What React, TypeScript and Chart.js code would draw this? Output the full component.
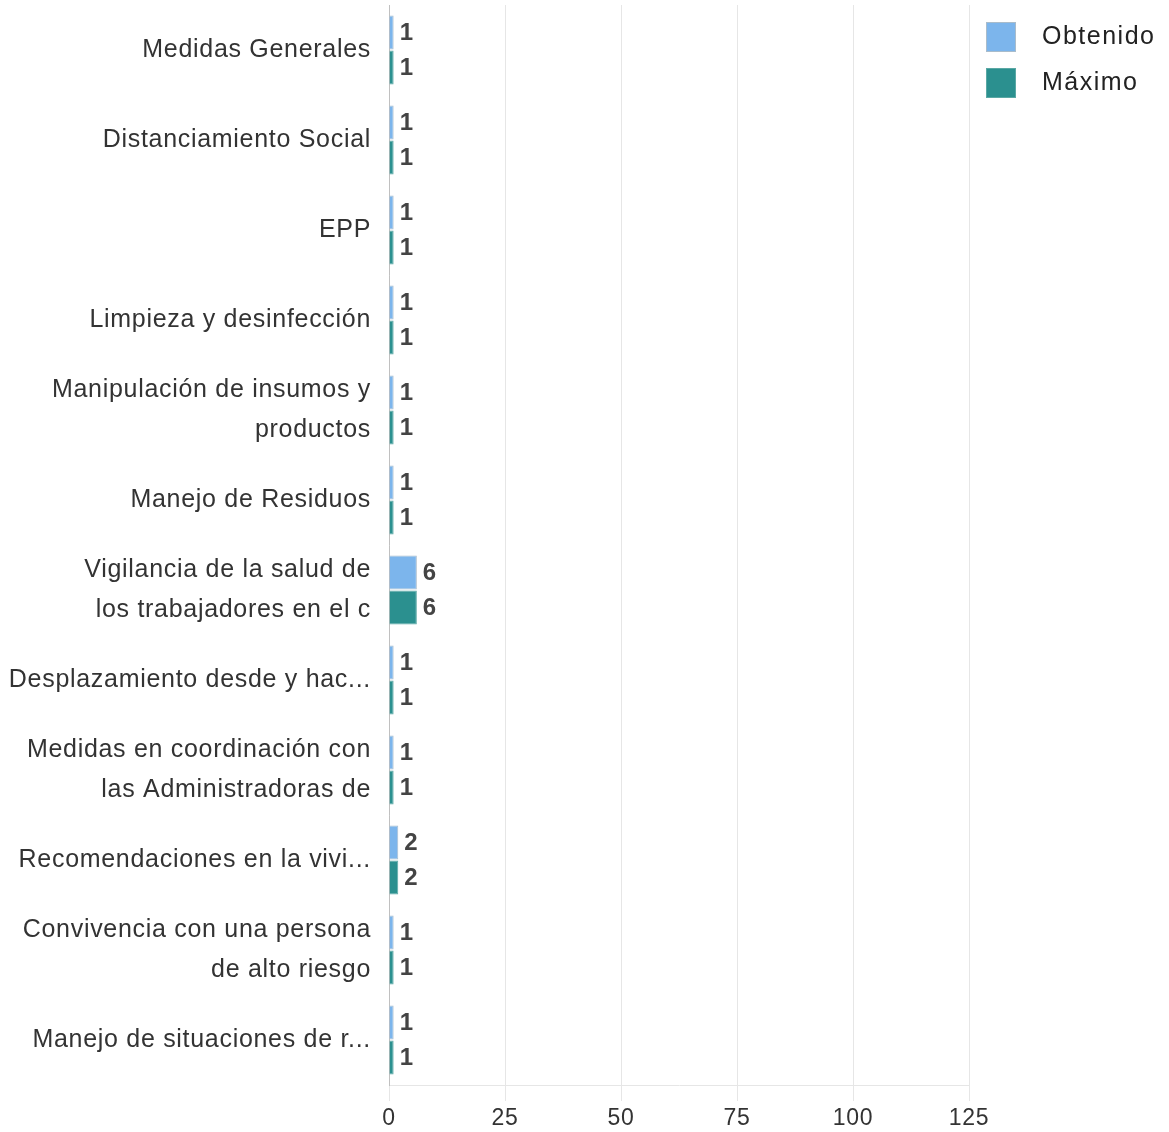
import React, { useEffect, useRef } from "react";
import { Chart, registerables } from "chart.js";

Chart.register(...registerables);

const categories: (string | string[])[] = [
  "Medidas Generales",
  "Distanciamiento Social",
  "EPP",
  "Limpieza y desinfección",
  ["Manipulación de insumos y", "productos"],
  "Manejo de Residuos",
  ["Vigilancia de la salud de", "los trabajadores en el c"],
  "Desplazamiento desde y hac...",
  ["Medidas en coordinación con", "las Administradoras de"],
  "Recomendaciones en la vivi...",
  ["Convivencia con una persona", "de alto riesgo"],
  "Manejo de situaciones de r...",
];

const obtenido = [1, 1, 1, 1, 1, 1, 6, 1, 1, 2, 1, 1];
const maximo = [1, 1, 1, 1, 1, 1, 6, 1, 1, 2, 1, 1];

const seriesNames = ["Obtenido", "Máximo"];
const xTicks = [0, 25, 50, 75, 100, 125];

const FONT = "'Liberation Sans', Arial, sans-serif";

const spacingPlugin = {
  id: "letterSpacing",
  beforeDraw(chart: any) {
    (chart.ctx as any).letterSpacing = "0.7px";
  },
};

const valueLabelPlugin = {
  id: "valueLabels",
  afterDatasetsDraw(chart: any) {
    const ctx = chart.ctx;
    ctx.save();
    (ctx as any).letterSpacing = "0px";
    ctx.font = `bold 24px ${FONT}`;
    ctx.fillStyle = "#444444";
    ctx.textAlign = "left";
    ctx.textBaseline = "middle";
    chart.data.datasets.forEach((ds: any, di: number) => {
      const meta = chart.getDatasetMeta(di);
      meta.data.forEach((bar: any, i: number) => {
        ctx.fillText(String(ds.data[i]), bar.x + 6, bar.y + 1);
      });
    });
    ctx.restore();
  },
};

const legendPlugin = {
  id: "customLegend",
  afterDraw(chart: any) {
    const ctx = chart.ctx;
    ctx.save();
    (ctx as any).letterSpacing = "1.5px";
    const boxX = chart.chartArea.right + 17;
    const startY = 22;
    const step = 46;
    chart.data.datasets.forEach((ds: any, i: number) => {
      const y = startY + i * step;
      ctx.fillStyle = ds.backgroundColor;
      ctx.fillRect(boxX, y, 30, 30);
      ctx.strokeStyle = ds.borderColor;
      ctx.lineWidth = 1;
      ctx.strokeRect(boxX + 0.5, y + 0.5, 29, 29);
      ctx.fillStyle = "#222222";
      ctx.font = `25px ${FONT}`;
      ctx.textAlign = "left";
      ctx.textBaseline = "middle";
      ctx.fillText(ds.label, boxX + 56, y + 15);
    });
    ctx.restore();
  },
};

export default function App() {
  const canvasRef = useRef<HTMLCanvasElement | null>(null);

  useEffect(() => {
    if (!canvasRef.current) return;
    const chart = new Chart(canvasRef.current, {
      type: "bar",
      data: {
        labels: categories,
        datasets: [
          {
            label: seriesNames[0],
            data: obtenido,
            backgroundColor: "#7cb5ec",
            borderColor: "#a9bccb",
            borderWidth: 1,
            categoryPercentage: 0.78,
            barPercentage: 0.97,
          },
          {
            label: seriesNames[1],
            data: maximo,
            backgroundColor: "#2b908f",
            borderColor: "#5aa8a4",
            borderWidth: 1,
            categoryPercentage: 0.78,
            barPercentage: 0.97,
          },
        ],
      },
      options: {
        indexAxis: "y",
        animation: false,
        responsive: true,
        maintainAspectRatio: false,
        layout: { padding: { top: 5, right: 200, left: 0, bottom: 0 } },
        plugins: {
          legend: { display: false },
          tooltip: { enabled: false },
        },
        scales: {
          x: {
            min: 0,
            max: 125,
            afterBuildTicks: (scale: any) => {
              scale.ticks = xTicks.map((v) => ({ value: v }));
            },
            afterFit: (scale: any) => {
              scale.height = 47;
              scale.paddingLeft = 0;
              scale.paddingRight = 0;
            },
            grid: {
              color: "#e6e6e6",
              tickLength: 16,
              lineWidth: 1,
            },
            border: { display: true, color: "#e6e6e6" },
            ticks: {
              padding: 4,
              color: "#333333",
              font: { family: FONT, size: 23 },
              maxRotation: 0,
            },
          },
          y: {
            afterFit: (scale: any) => {
              scale.width = 389;
              scale.paddingTop = 0;
              scale.paddingBottom = 0;
            },
            grid: { display: false, drawTicks: false },
            border: { display: true, color: "#c0c0c0" },
            ticks: {
              padding: 18,
              color: "#333333",
              font: { family: FONT, size: 25, lineHeight: 1.6 },
              autoSkip: false,
            },
          },
        },
      },
      plugins: [spacingPlugin, valueLabelPlugin, legendPlugin],
    });
    return () => chart.destroy();
  }, []);

  return (
    <div
      style={{
        position: "absolute",
        left: 0,
        top: 0,
        width: "1169px",
        height: "1132px",
        background: "#ffffff",
      }}
    >
      <canvas ref={canvasRef} />
    </div>
  );
}
